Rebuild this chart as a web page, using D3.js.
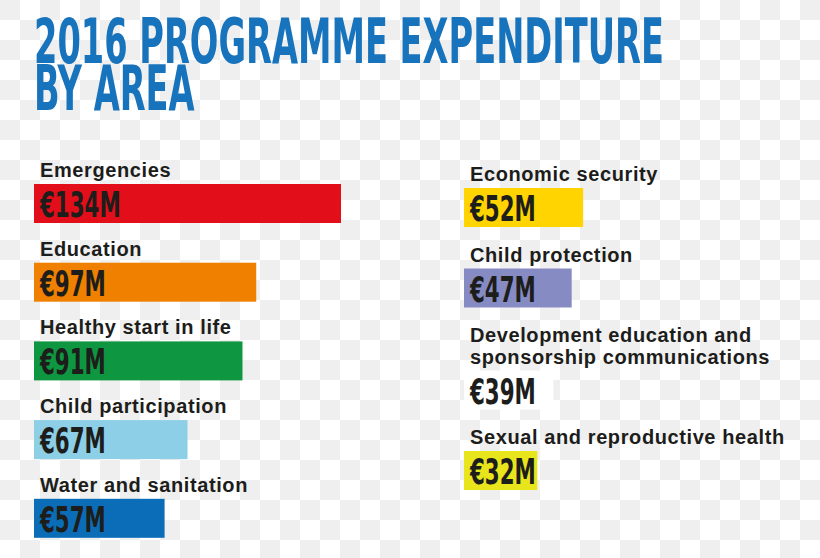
<!DOCTYPE html>
<html>
<head>
<meta charset="utf-8">
<script src="https://cdn.jsdelivr.net/npm/d3@7"></script>
<style>
  body { margin: 0; background: #fff; }
  svg { display: block; }
</style>
</head>
<body>
<script>
// programme areas, two columns as in the original layout
var leftAreas = ['Emergencies', 'Education', 'Healthy start in life', 'Child participation', 'Water and sanitation']
var leftValues = [134, 97, 91, 67, 57]
var leftColors = ['#e20e19', '#f08000', '#0f9640', '#8ccfe6', '#0b6db8']

var rightAreas = ['Economic security', 'Child protection', 'Development education and\nsponsorship communications', 'Sexual and reproductive health']
var rightValues = [52, 47, 39, 32]
var rightColors = ['#ffd400', '#878bc4', '#ffffff', '#e8e51c']

var titleLines = ['2016 PROGRAMME EXPENDITURE', 'BY AREA']

var W = 820, H = 558
var svg = d3.select('body').append('svg')
    .attr('width', W)
    .attr('height', H)

// transparent-png checker background
var pat = svg.append('defs').append('pattern')
    .attr('id', 'checker')
    .attr('width', 40)
    .attr('height', 40)
    .attr('patternUnits', 'userSpaceOnUse')
pat.append('rect').attr('width', 40).attr('height', 40).attr('fill', '#ffffff')
pat.append('rect').attr('width', 20).attr('height', 20).attr('fill', '#efefef')
pat.append('rect').attr('x', 20).attr('y', 20).attr('width', 20).attr('height', 20).attr('fill', '#efefef')

svg.append('rect')
    .attr('width', W)
    .attr('height', H)
    .attr('fill', 'url(#checker)')

// title, one text with two lines, squeezed horizontally like the condensed poster face
var title = svg.append('text')
    .style('font-family', '"DejaVu Sans Condensed", "DejaVu Sans", sans-serif')
    .style('font-stretch', 'condensed')
    .style('font-weight', 'bold')
    .style('font-size', '62px')
    .attr('fill', '#1873bd')

var tsp = title.selectAll('tspan')
    .data(titleLines)
    .enter()
    .append('tspan')
    .attr('x', 0)
    .attr('y', (d, i) => i * 47)
    .text(d => d)

var k = 630 / tsp.nodes()[0].getComputedTextLength()
title.attr('transform', 'translate(34,63) scale(' + k + ',1)')

var x = d3.scaleLinear()
    .domain([0, 134])
    .range([0, 307])

var barH = 39
var lineH = 21.5

function column(areas, values, colors, x0, y0, gap) {
    var rows = []
    var y = y0 // baseline of first label line
    areas.forEach(function (a, i) {
        var lines = a.split('\n')
        var barTop = y + (lines.length - 1) * lineH + 7
        rows.push({ lines: lines, value: values[i], color: colors[i], base: y, barTop: barTop })
        y = barTop + barH + gap
    })

    var g = svg.append('g')
        .attr('transform', 'translate(' + x0 + ',0)')

    var row = g.selectAll('g')
        .data(rows)
        .enter()
        .append('g')

    row.append('text')
        .attr('x', 6)
        .attr('y', d => d.base)
        .style('font-family', '"Liberation Sans", Arial, sans-serif')
        .style('font-weight', 'bold')
        .style('font-size', '20px')
        .style('letter-spacing', '0.6px')
        .attr('fill', '#1d1d1b')
        .selectAll('tspan')
        .data(d => d.lines)
        .enter()
        .append('tspan')
        .attr('x', 6)
        .attr('dy', (d, i) => i ? lineH : 0)
        .text(d => d)

    row.append('rect')
        .attr('x', 0)
        .attr('y', d => d.barTop)
        .attr('width', d => x(d.value))
        .attr('height', barH)
        .attr('fill', d => d.color)

    row.append('text')
        .attr('transform', d => 'translate(6,' + (d.barTop + 33) + ') scale(0.66,1)')
        .style('font-family', '"DejaVu Sans Condensed", "DejaVu Sans", sans-serif')
        .style('font-stretch', 'condensed')
        .style('font-weight', 'bold')
        .style('font-size', '36px')
        .attr('fill', '#1d1d1b')
        .text(d => '€' + d.value + 'M')
}

column(leftAreas, leftValues, leftColors, 34, 177, 32.7)
column(rightAreas, rightValues, rightColors, 464, 181, 34.5)
</script>
</body>
</html>
